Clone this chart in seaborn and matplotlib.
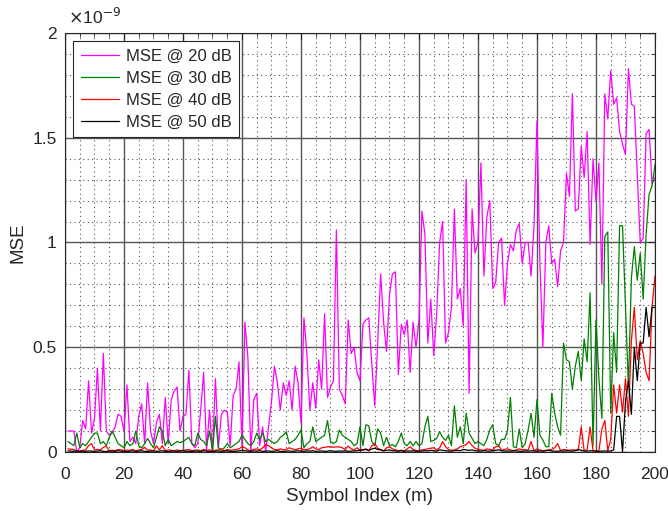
import numpy as np
import pandas as pd
import matplotlib
matplotlib.use('Agg')
import matplotlib.pyplot as plt
import seaborn as sns
from matplotlib.ticker import MultipleLocator, FuncFormatter

# MSE values, in units of 1e-9 (symbol index 1..200)
mse_20db = [
    0.10, 0.10, 0.10, 0.00, 0.02, 0.15, 0.11, 0.34, 0.09, 0.16,
    0.40, 0.10, 0.47, 0.10, 0.08, 0.09, 0.12, 0.18, 0.17, 0.10,
    0.32, 0.05, 0.07, 0.04, 0.17, 0.23, 0.04, 0.33, 0.10, 0.04,
    0.14, 0.18, 0.04, 0.26, 0.04, 0.25, 0.29, 0.31, 0.10, 0.17,
    0.18, 0.39, 0.04, 0.02, 0.04, 0.20, 0.38, 0.01, 0.20, 0.00,
    0.35, 0.02, 0.18, 0.20, 0.19, 0.03, 0.27, 0.30, 0.43, 0.03,
    0.62, 0.45, 0.00, 0.25, 0.28, 0.03, 0.12, 0.00, 0.12, 0.24,
    0.41, 0.33, 0.20, 0.33, 0.27, 0.34, 0.20, 0.41, 0.33, 0.14,
    0.64, 0.47, 0.20, 0.33, 0.21, 0.44, 0.30, 0.66, 0.26, 0.31,
    0.34, 1.06, 0.30, 0.27, 0.23, 0.63, 0.47, 0.50, 0.38, 0.34,
    0.61, 0.63, 0.64, 0.42, 0.22, 0.52, 0.85, 0.62, 0.48, 0.75,
    0.85, 0.86, 0.37, 0.61, 0.56, 0.63, 0.38, 0.62, 0.50, 0.63,
    1.15, 1.04, 0.52, 0.73, 0.46, 0.66, 1.00, 1.10, 0.52, 0.57,
    0.69, 1.16, 0.73, 0.78, 0.60, 1.30, 0.28, 1.16, 0.95, 1.00,
    1.38, 0.84, 1.12, 1.20, 0.78, 0.81, 1.00, 1.02, 0.70, 0.90,
    0.99, 0.96, 1.06, 1.09, 0.90, 1.00, 1.00, 0.84, 1.08, 1.58,
    0.90, 0.50, 1.00, 1.08, 0.90, 0.92, 0.79, 0.96, 1.00, 1.33,
    1.22, 1.71, 1.15, 1.16, 1.46, 1.31, 1.53, 0.99, 1.40, 1.20,
    1.38, 0.80, 1.71, 1.59, 1.82, 1.66, 1.69, 1.53, 1.47, 1.42,
    1.83, 1.66, 1.65, 1.32, 1.00, 1.02, 1.52, 1.54, 1.28, 1.31,
]
mse_30db = [
    0.05, 0.04, 0.03, 0.09, 0.02, 0.04, 0.03, 0.05, 0.07, 0.09,
    0.09, 0.04, 0.05, 0.03, 0.07, 0.10, 0.07, 0.04, 0.03, 0.02,
    0.05, 0.03, 0.04, 0.10, 0.03, 0.02, 0.04, 0.065, 0.04, 0.02,
    0.07, 0.12, 0.10, 0.03, 0.06, 0.03, 0.04, 0.05, 0.045, 0.05,
    0.06, 0.07, 0.04, 0.03, 0.09, 0.06, 0.05, 0.03, 0.10, 0.005,
    0.17, 0.02, 0.01, 0.02, 0.04, 0.02, 0.03, 0.04, 0.05, 0.08,
    0.06, 0.04, 0.03, 0.05, 0.09, 0.06, 0.09, 0.05, 0.06, 0.05,
    0.04, 0.05, 0.07, 0.08, 0.097, 0.04, 0.05, 0.06, 0.08, 0.105,
    0.02, 0.04, 0.05, 0.12, 0.05, 0.06, 0.07, 0.08, 0.15, 0.05,
    0.04, 0.05, 0.105, 0.08, 0.07, 0.06, 0.05, 0.03, 0.04, 0.12,
    0.03, 0.13, 0.125, 0.05, 0.03, 0.11, 0.09, 0.03, 0.07, 0.03,
    0.035, 0.025, 0.05, 0.09, 0.04, 0.03, 0.05, 0.03, 0.05, 0.03,
    0.04, 0.12, 0.17, 0.05, 0.055, 0.065, 0.097, 0.07, 0.055, 0.08,
    0.03, 0.22, 0.07, 0.12, 0.04, 0.185, 0.09, 0.065, 0.04, 0.05,
    0.04, 0.03, 0.06, 0.105, 0.13, 0.04, 0.03, 0.06, 0.06, 0.10,
    0.26, 0.025, 0.02, 0.11, 0.02, 0.04, 0.105, 0.185, 0.07, 0.25,
    0.08, 0.057, 0.025, 0.025, 0.28, 0.185, 0.12, 0.08, 0.52, 0.44,
    0.43, 0.30, 0.41, 0.48, 0.34, 0.54, 0.43, 0.76, 0.03, 0.63,
    0.35, 0.16, 1.03, 1.05, 0.185, 0.57, 0.38, 1.08, 1.08, 0.69,
    0.31, 0.83, 0.98, 0.82, 0.95, 0.73, 1.04, 1.23, 1.27, 1.37,
]
mse_40db = [
    0.015, 0.013, 0.012, 0.002, 0.005, 0.008, 0.01, 0.03, 0.04, 0.01,
    0.012, 0.01, 0.022, 0.028, 0.005, 0.008, 0.006, 0.012, 0.01, 0.005,
    0.01, 0.008, 0.012, 0.005, 0.01, 0.012, 0.022, 0.008, 0.01, 0.005,
    0.03, 0.01, 0.03, 0.006, 0.01, 0.008, 0.005, 0.01, 0.006, 0.008,
    0.01, 0.012, 0.006, 0.008, 0.01, 0.005, 0.012, 0.008, 0.01, 0.005,
    0.008, 0.01, 0.015, 0.005, 0.012, 0.008, 0.01, 0.012, 0.015, 0.025,
    0.02, 0.01, 0.006, 0.012, 0.015, 0.01, 0.02, 0.035, 0.03, 0.02,
    0.012, 0.01, 0.015, 0.01, 0.012, 0.02, 0.015, 0.01, 0.015, 0.018,
    0.01, 0.012, 0.015, 0.025, 0.015, 0.012, 0.02, 0.022, 0.025, 0.025,
    0.022, 0.025, 0.024, 0.02, 0.012, 0.028, 0.015, 0.01, 0.02, 0.008,
    0.01, 0.015, 0.005, 0.03, 0.04, 0.018, 0.012, 0.005, 0.02, 0.025,
    0.015, 0.01, 0.006, 0.008, 0.005, 0.015, 0.025, 0.012, 0.008, 0.005,
    0.01, 0.012, 0.015, 0.018, 0.02, 0.01, 0.02, 0.05, 0.025, 0.012,
    0.008, 0.01, 0.015, 0.025, 0.03, 0.035, 0.05, 0.03, 0.018, 0.012,
    0.01, 0.008, 0.015, 0.012, 0.01, 0.025, 0.03, 0.008, 0.012, 0.015,
    0.01, 0.005, 0.01, 0.015, 0.01, 0.012, 0.008, 0.05, 0.005, 0.015,
    0.01, 0.005, 0.008, 0.01, 0.012, 0.02, 0.04, 0.006, 0.012, 0.01,
    0.008, 0.01, 0.01, 0.008, 0.12, 0.006, 0.01, 0.12, 0.006, 0.005,
    0.006, 0.11, 0.15, 0.006, 0.06, 0.32, 0.185, 0.32, 0.19, 0.35,
    0.17, 0.53, 0.69, 0.44, 0.53, 0.47, 0.38, 0.34, 0.69, 0.84,
]
mse_50db = [
    0.005, 0.004, 0.003, 0.006, 0.002, 0.004, 0.003, 0.005, 0.004, 0.003,
    0.004, 0.006, 0.003, 0.002, 0.005, 0.004, 0.003, 0.006, 0.004, 0.003,
    0.002, 0.004, 0.005, 0.003, 0.004, 0.006, 0.003, 0.002, 0.004, 0.005,
    0.003, 0.004, 0.006, 0.003, 0.002, 0.004, 0.005, 0.003, 0.004, 0.006,
    0.003, 0.004, 0.002, 0.005, 0.004, 0.003, 0.006, 0.004, 0.003, 0.002,
    0.004, 0.005, 0.003, 0.004, 0.006, 0.003, 0.002, 0.004, 0.005, 0.008,
    0.006, 0.004, 0.003, 0.005, 0.004, 0.006, 0.003, 0.004, 0.005, 0.003,
    0.004, 0.006, 0.003, 0.002, 0.004, 0.005, 0.003, 0.004, 0.006, 0.004,
    0.003, 0.005, 0.004, 0.006, 0.003, 0.004, 0.005, 0.003, 0.004, 0.006,
    0.004, 0.003, 0.005, 0.004, 0.006, 0.003, 0.004, 0.005, 0.006, 0.008,
    0.01, 0.012, 0.008, 0.014, 0.018, 0.012, 0.01, 0.006, 0.008, 0.01,
    0.006, 0.005, 0.004, 0.006, 0.003, 0.005, 0.004, 0.006, 0.003, 0.005,
    0.004, 0.006, 0.005, 0.008, 0.006, 0.004, 0.01, 0.008, 0.006, 0.005,
    0.004, 0.006, 0.008, 0.006, 0.012, 0.01, 0.008, 0.01, 0.006, 0.005,
    0.004, 0.006, 0.005, 0.004, 0.006, 0.008, 0.01, 0.006, 0.004, 0.005,
    0.004, 0.006, 0.005, 0.004, 0.003, 0.005, 0.004, 0.006, 0.005, 0.004,
    0.005, 0.004, 0.006, 0.008, 0.005, 0.004, 0.003, 0.005, 0.004, 0.006,
    0.005, 0.004, 0.006, 0.012, 0.008, 0.005, 0.004, 0.006, 0.005, 0.004,
    0.003, 0.004, 0.005, 0.004, 0.005, 0.01, 0.17, 0.17, 0.0, 0.24,
    0.34, 0.18, 0.50, 0.34, 0.52, 0.52, 0.69, 0.55, 0.69, 0.69,
]

symbols = np.arange(1, 201)
labels = ['MSE @ 20 dB', 'MSE @ 30 dB', 'MSE @ 40 dB', 'MSE @ 50 dB']
colors = ['#ff00ff', '#008000', '#ff0000', '#000000']

df = pd.concat([
    pd.DataFrame({'Symbol': symbols, 'MSE': np.array(vals) * 1e-9, 'SNR': lab})
    for vals, lab in zip([mse_20db, mse_30db, mse_40db, mse_50db], labels)
])

sns.set_style('white')
plt.rcParams['font.family'] = ['Liberation Sans', 'DejaVu Sans']

fig = plt.figure(figsize=(6.68, 5.11), dpi=100)
ax = fig.add_axes([0.0973, 0.1155, 0.8832, 0.8199])

sns.lineplot(data=df, x='Symbol', y='MSE', hue='SNR', palette=colors,
             linewidth=0.9, estimator=None, ax=ax)

ax.set_xlim(0, 200)
ax.set_ylim(0, 2e-9)
ax.xaxis.set_major_locator(MultipleLocator(20))
ax.xaxis.set_minor_locator(MultipleLocator(5))
ax.yaxis.set_major_locator(MultipleLocator(0.5e-9))
ax.yaxis.set_minor_locator(MultipleLocator(0.1e-9))
ax.yaxis.set_major_formatter(FuncFormatter(lambda v, p: f'{v * 1e9:g}'))
ax.xaxis.get_offset_text().set_visible(False)
ax.yaxis.get_offset_text().set_visible(False)

ax.grid(which='major', color='#555555', linestyle='-', linewidth=1.0)
ax.grid(which='minor', color='#555555', linestyle=(0, (1, 3)), linewidth=0.8)
ax.set_axisbelow(True)

ax.tick_params(which='both', direction='in', top=True, right=True, labelsize=12.5, color='#262626')
ax.tick_params(which='major', length=5)
ax.tick_params(which='minor', length=3)
ax.tick_params(axis='x', which='major', pad=11)
ax.tick_params(axis='y', which='major', pad=6)
for s in ax.spines.values():
    s.set_color('#262626')
    s.set_linewidth(0.8)

ax.set_xlabel('Symbol Index (m)', fontsize=13.5, color='#262626', labelpad=4)
ax.set_ylabel('MSE', fontsize=13.5, color='#262626')
ax.text(0.005, 1.015, r'$\times$10$^{-9}$', transform=ax.transAxes, fontsize=12.5,
        ha='left', va='bottom', color='#262626')

leg = ax.legend(loc='upper left', fontsize=12, frameon=True, fancybox=False,
                borderaxespad=0.5, borderpad=0.45, handlelength=2.3,
                handletextpad=0.4, labelspacing=0.42)
leg.get_frame().set_edgecolor('#262626')
leg.get_frame().set_linewidth(0.8)
leg.get_frame().set_alpha(1)

fig.savefig('out.png', dpi=100)
